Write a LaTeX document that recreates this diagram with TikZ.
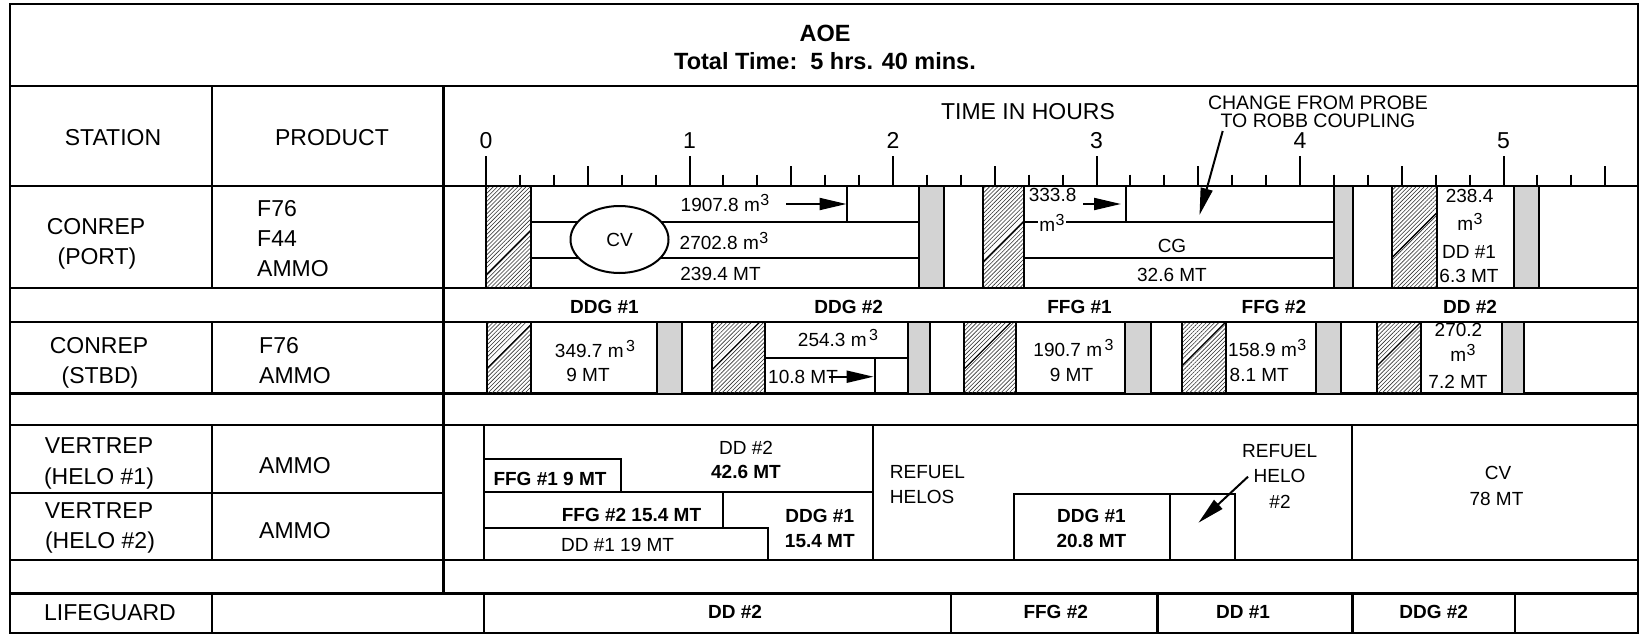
\documentclass[tikz,border=0pt]{standalone}
\usepackage{fontspec}
\setmainfont{Liberation Sans}
\usetikzlibrary{patterns.meta,arrows.meta,shapes.geometric}
\definecolor{lgray}{RGB}{211,211,211}
\newcommand{\cubed}{\kern0.5pt\raisebox{6.3pt}{\fontsize{16}{16}\selectfont 3}}
\newcommand{\cubedsp}{\kern2.5pt\raisebox{6.3pt}{\fontsize{16}{16}\selectfont 3}}
\newcommand{\hatchrect}[5]{%
  \fill[pattern={Lines[angle=45,distance=2.9pt,line width=0.6pt]},pattern color=black!80] (#1,#2) rectangle (#3,#4);
  \begin{scope}
    \clip (#1,#2) rectangle (#3,#4);
    \draw[white,line width=2.4pt] (#1,#5) ++(0,-2.3) ++(-80,80) -- ++(200,-200);
    \draw[black,line width=1.3pt] (#1,#5) ++(-80,80) -- ++(200,-200);
  \end{scope}
  \draw[chart] (#1,#2) rectangle (#3,#4);
}
\newcommand{\grayrect}[4]{\draw[chart,fill=lgray] (#1,#2) rectangle (#3,#4);}
\begin{document}
\begin{tikzpicture}[x=1pt,y=-1pt,
  grid/.style={line width=2.4pt,line cap=rect},
  chart/.style={line width=2pt},
  hdr/.style={font=\fontsize{23}{27}\selectfont,inner sep=0pt,anchor=base},
  hdrb/.style={font=\fontsize{23.5}{27}\selectfont\bfseries,inner sep=0pt,anchor=base},
  sm/.style={font=\fontsize{19}{22}\selectfont,inner sep=0pt,anchor=base},
  smb/.style={font=\fontsize{19}{22}\selectfont\bfseries,inner sep=0pt,anchor=base},
  note/.style={font=\fontsize{19.5}{22}\selectfont,inner sep=0pt,anchor=base},
  arr/.style={line width=2pt,-{Triangle[length=27pt,width=12pt]}}]
\fill[white] (0,0) rectangle (1642,635);
\useasboundingbox (0,0) rectangle (1642,635);

% ---------- grid ----------
\draw[grid] (10,4) rectangle (1638,633);
\foreach \yy in {86,186,288,322,393.5,425,560,593.5}
  \draw[grid] (10,\yy) -- (1638,\yy);
\draw[grid] (10,493) -- (443.5,493);
\draw[grid] (212,86) -- (212,288);
\draw[grid] (212,322) -- (212,393.5);
\draw[grid] (212,425) -- (212,560);
\draw[grid] (212,593.5) -- (212,633);
\draw[grid] (443.5,86) -- (443.5,593.5);
\draw[grid] (484,425) -- (484,560);
\draw[grid] (484,593.5) -- (484,633);

% ---------- ticks ----------
\foreach \i in {0,...,33}{
  \pgfmathsetmacro{\xt}{486+\i*33.917}
  \pgfmathsetmacro{\yt}{mod(\i,6)==0 ? 156 : (mod(\i,3)==0 ? 166 : 174.5)}
  \draw[chart] (\xt,\yt) -- (\xt,186);
}
\foreach \h in {0,...,5}
  \node[hdr] (hr\h) at (486+\h*203.5,148.2) {\h};

% ---------- title and header ----------
\node[hdrb] (aoe) at (825,41.7) {AOE};
\node[hdrb] (tot) at (825,69.2) {Total Time:\ \ 5 hrs. 40 mins.};
\node[hdr] (station) at (113,145.2) {STATION};
\node[hdr] (product) at (332,145.2) {PRODUCT};
\node[hdr] (tih) at (1028,119.9) {TIME IN HOURS};
\node[note] (chg1) at (1318,109.5) {CHANGE FROM PROBE};
\node[note] (chg2) at (1318,127.5) {TO ROBB COUPLING};

% ---------- left columns ----------
\node[hdr] (cp1) at (96,234.9) {CONREP};
\node[hdr] (cp2) at (97,264.9) {(PORT)};
\node[hdr,anchor=base west] (pf76) at (257,216.5) {F76};
\node[hdr,anchor=base west] (pf44) at (257,246.5) {F44};
\node[hdr,anchor=base west] (pammo) at (257,276.5) {AMMO};
\node[hdr] (cs1) at (99,353.2) {CONREP};
\node[hdr] (cs2) at (100,383.2) {(STBD)};
\node[hdr,anchor=base west] (sf76) at (259,353.2) {F76};
\node[hdr,anchor=base west] (sammo) at (259,383.2) {AMMO};
\node[hdr] (v11) at (99,453.9) {VERTREP};
\node[hdr] (v12) at (99,484.9) {(HELO \#1)};
\node[hdr,anchor=base west] (v1ammo) at (259,473.9) {AMMO};
\node[hdr] (v21) at (99,518.2) {VERTREP};
\node[hdr] (v22) at (100,548.2) {(HELO \#2)};
\node[hdr,anchor=base west] (v2ammo) at (259,538.2) {AMMO};
\node[hdr] (lg) at (110,620.9) {LIFEGUARD};

% ---------- CONREP (PORT) ----------
\draw[chart] (531,222) -- (918.6,222);
\draw[chart] (531,258) -- (918.6,258);
\draw[chart] (847,186) -- (847,222);
\hatchrect{486}{186}{531}{288}{275}
\grayrect{918.6}{186}{943.6}{288}
\node[draw,ellipse,chart,fill=white,minimum width=98pt,minimum height=67pt,inner sep=0pt,
      font=\fontsize{19}{22}\selectfont] (cv) at (619.5,239.5) {CV};
\node[sm] (q1) at (725,211.3) {1907.8 m\cubed};
\coordinate (a1s) at (786,204);
\coordinate (a1e) at (846.5,204);
\draw[arr] (a1s) -- (a1e);
\node[sm] (q2) at (724,249.8) {2702.8 m\cubed};
\node[sm] (q3) at (720.5,280.8) {239.4 MT};

\draw[chart] (1023.5,222) -- (1333.7,222);
\draw[chart] (1023.5,258) -- (1333.7,258);
\draw[chart] (1125.6,186) -- (1125.6,222);
\hatchrect{983}{186}{1023.5}{288}{262}
\grayrect{1333.7}{186}{1352.7}{288}
\node[sm] (q4) at (1052.6,201.8) {333.8};
\node[sm,fill=white,inner sep=1.5pt] (q5) at (1052,231.8) {m\cubed};
\coordinate (a2s) at (1083,204);
\coordinate (a2e) at (1121,204);
\draw[arr] (a2s) -- (a2e);
\node[sm] (cg) at (1172,252.5) {CG};
\node[sm] (q6) at (1172,281.8) {32.6 MT};
\coordinate (a3s) at (1222.7,131);
\coordinate (a3e) at (1199.5,215);
\draw[arr] (a3s) -- (a3e);

\hatchrect{1391.6}{186}{1437}{288}{258}
\grayrect{1514}{186}{1539}{288}
\node[sm] (q7) at (1469.6,202.2) {238.4};
\node[sm] (q8) at (1470,230.5) {m\cubed};
\node[sm] (q9) at (1469,258.8) {DD \#1};
\node[sm] (q10) at (1469,282.8) {6.3 MT};

% ---------- ship labels ----------
\node[smb] (l1) at (604.5,313.8) {DDG \#1};
\node[smb] (l2) at (848.7,313.8) {DDG \#2};
\node[smb] (l3) at (1079.5,313.8) {FFG \#1};
\node[smb] (l4) at (1273.9,313.8) {FFG \#2};
\node[smb] (l5) at (1470,313.8) {DD \#2};

% ---------- CONREP (STBD) ----------
\hatchrect{486.5}{322}{531}{393.5}{369}
\grayrect{657}{322}{682}{393.5}
\node[sm] (s1) at (595,357.5) {349.7 m\cubedsp};
\node[sm] (s2) at (588,381.8) {9 MT};

\hatchrect{711.7}{322}{764.5}{393.5}{370}
\draw[chart] (764.5,358.3) -- (907.7,358.3);
\draw[chart] (875,358.3) -- (875,393.5);
\grayrect{907.7}{322}{930}{393.5}
\node[sm] (s3) at (838,346.8) {254.3 m\cubedsp};
\node[sm,anchor=base west] (s4) at (768,383.5) {10.8 MT};
\coordinate (a4s) at (829,376.7);
\coordinate (a4e) at (873.6,376.7);
\draw[arr] (a4s) -- (a4e);

\hatchrect{964.3}{322}{1016}{393.5}{369}
\grayrect{1125}{322}{1151}{393.5}
\node[sm] (s5) at (1073.5,356.8) {190.7 m\cubedsp};
\node[sm] (s6) at (1071.5,381.8) {9 MT};

\hatchrect{1181.8}{322}{1225.5}{393.5}{366}
\grayrect{1315.5}{322}{1340.5}{393.5}
\node[sm,anchor=base west] (s7) at (1228,356.8) {158.9 m\cubed};
\node[sm,anchor=base west] (s8) at (1229.5,381.8) {8.1 MT};

\hatchrect{1377}{322}{1420.6}{393.5}{366}
\grayrect{1502}{322}{1523.8}{393.5}
\node[sm] (s9) at (1458.5,336.8) {270.2};
\node[sm] (s10) at (1463,361.5) {m\cubed};
\node[sm] (s11) at (1458,388.8) {7.2 MT};

% ---------- VERTREP ----------
\draw[chart] (484,492) -- (872.5,492);
\draw[chart] (484,459.3) -- (620.6,459.3) -- (620.6,492);
\draw[chart] (723,492) -- (723,528.3);
\draw[chart] (484,528.3) -- (768.4,528.3) -- (768.4,560);
\draw[chart] (872.5,425) -- (872.5,560);
\draw[chart] (1014,560) -- (1014,494.3) -- (1235.4,494.3) -- (1235.4,560);
\draw[chart] (1170,494.3) -- (1170,560);
\draw[chart] (1352.4,425) -- (1352.4,560);

\node[sm] (v1) at (746,454.5) {DD \#2};
\node[smb] (v2) at (746,478.5) {42.6 MT};
\node[smb] (v3) at (550,485.1) {FFG \#1 9 MT};
\node[smb] (v4) at (631.5,521.1) {FFG \#2 15.4 MT};
\node[sm] (v5) at (617.6,551.8) {DD \#1 19 MT};
\node[smb] (v6) at (819.8,522.8) {DDG \#1};
\node[smb] (v7) at (819.8,547.8) {15.4 MT};
\node[sm,anchor=base west] (v8) at (889.7,478.5) {REFUEL};
\node[sm,anchor=base west] (v9) at (889.7,503.5) {HELOS};
\node[smb] (v10) at (1091.4,522.8) {DDG \#1};
\node[smb] (v11b) at (1091.4,547.5) {20.8 MT};
\node[sm] (v12b) at (1279.6,457.5) {REFUEL};
\node[sm] (v13) at (1279.5,482.5) {HELO};
\node[sm] (v14) at (1280,508.5) {\#2};
\coordinate (a5s) at (1248,476.7);
\coordinate (a5e) at (1198.5,522.7);
\draw[arr] (a5s) -- (a5e);
\node[sm] (v15) at (1498,479.5) {CV};
\node[sm] (v16) at (1496.5,505.1) {78 MT};

% ---------- LIFEGUARD ----------
\foreach \xx in {951,1157.6,1352.4,1515}
  \draw[grid] (\xx,593.5) -- (\xx,633);
\node[smb] (g1) at (735,618.5) {DD \#2};
\node[smb] (g2) at (1055.7,618.5) {FFG \#2};
\node[smb] (g3) at (1243,618.5) {DD \#1};
\node[smb] (g4) at (1433.7,618.5) {DDG \#2};
\end{tikzpicture}
\end{document}
